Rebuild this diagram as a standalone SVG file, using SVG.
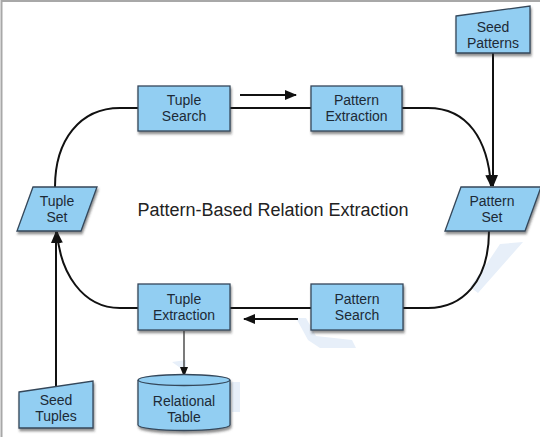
<svg xmlns="http://www.w3.org/2000/svg" width="540" height="437" viewBox="0 0 540 437">
  <defs>
    <style>
      .node { fill: #92cef2; stroke: #34475a; stroke-width: 1.3; filter: url(#sh); }
      .lbl { font-family: "Liberation Sans", Arial, sans-serif; font-size: 14px; fill: #1d2a36; text-anchor: middle; }
      .title { font-family: "Liberation Sans", Arial, sans-serif; font-size: 18px; fill: #222; text-anchor: middle; }
      .conn { fill: none; stroke: #111; stroke-width: 2; }
      .thin { fill: none; stroke: #222; stroke-width: 1.2; }
      .wm { fill: #e7eff9; }
    </style>
    <filter id="sh" x="-20%" y="-20%" width="150%" height="160%">
      <feDropShadow dx="1" dy="2.5" stdDeviation="1.2" flood-color="#333" flood-opacity="0.55"/>
    </filter>
    <marker id="ah" markerUnits="userSpaceOnUse" markerWidth="12" markerHeight="10" refX="11" refY="5" orient="auto">
      <path d="M0,0 L12,5 L0,10 Z" fill="#111"/>
    </marker>
    <marker id="ahs" markerUnits="userSpaceOnUse" markerWidth="10" markerHeight="8" refX="9" refY="4" orient="auto">
      <path d="M0,0 L10,4 L0,8 Z" fill="#111"/>
    </marker>
  </defs>

  <rect x="0" y="0" width="540" height="437" fill="#ffffff"/>
  <path d="M1.5,437 V1 H540" fill="none" stroke="#a8a8a8" stroke-width="2"/>

  <!-- faint watermark -->
  <g id="watermark">
    <polygon class="wm" points="500,244 523,242 478,293 470,287 488,262"/>
    <polygon class="wm" points="296,318 306,318 316,336 352,340 356,348 320,348 308,340"/>
    <polygon class="wm" points="172,362 186,360 186,372"/>
    <polygon class="wm" points="232,382 240,382 240,412 232,412"/>
  </g>

  <g id="connectors">
    <path class="conn" d="M138,108 H120 C80,108 55,140 55,187"/>
    <path class="conn" d="M230,108 H311"/>
    <path class="conn" d="M402,108 H428 C468,108 488,140 491,186" marker-end="url(#ah)"/>
    <path class="conn" d="M493,53 V186" marker-end="url(#ah)"/>
    <path class="conn" d="M489,231 C489,282 462,308 428,308 H403"/>
    <path class="conn" d="M311,308 H230"/>
    <path class="conn" d="M138,308 H120 C82,308 60,272 57,232" marker-end="url(#ah)"/>
    <path class="conn" d="M56,393 V232" marker-end="url(#ah)"/>
    <path class="conn" d="M240,95 H296" marker-end="url(#ah)"/>
    <path class="conn" d="M298,319 H244" marker-end="url(#ah)"/>
    <path class="thin" d="M184,331 V376" marker-end="url(#ahs)"/>
  </g>

  <g id="seed-patterns">
    <polygon class="node" points="456,16 530,6 530,53 456,53"/>
    <text class="lbl" x="493" y="32">Seed</text>
    <text class="lbl" x="493" y="48">Patterns</text>
  </g>

  <g id="tuple-search">
    <rect class="node" x="138" y="86" width="92" height="45"/>
    <text class="lbl" x="184" y="105">Tuple</text>
    <text class="lbl" x="184" y="121">Search</text>
  </g>

  <g id="pattern-extraction">
    <rect class="node" x="311" y="86" width="91" height="45"/>
    <text class="lbl" x="356.5" y="105">Pattern</text>
    <text class="lbl" x="356.5" y="121">Extraction</text>
  </g>

  <g id="tuple-set">
    <polygon class="node" points="33,187 97,187 81,231 17,231"/>
    <text class="lbl" x="57" y="206">Tuple</text>
    <text class="lbl" x="57" y="222">Set</text>
  </g>

  <g id="pattern-set">
    <polygon class="node" points="461,187 541,187 525,231 445,231"/>
    <text class="lbl" x="492" y="206">Pattern</text>
    <text class="lbl" x="492" y="222">Set</text>
  </g>

  <g id="title">
    <text class="title" x="273" y="216">Pattern-Based Relation Extraction</text>
  </g>

  <g id="tuple-extraction">
    <rect class="node" x="138" y="284" width="92" height="46"/>
    <text class="lbl" x="184" y="304">Tuple</text>
    <text class="lbl" x="184" y="320">Extraction</text>
  </g>

  <g id="pattern-search">
    <rect class="node" x="311" y="284" width="92" height="46"/>
    <text class="lbl" x="357" y="304">Pattern</text>
    <text class="lbl" x="357" y="320">Search</text>
  </g>

  <g id="seed-tuples">
    <polygon class="node" points="19,392 93,381 93,428 19,428"/>
    <text class="lbl" x="56" y="405">Seed</text>
    <text class="lbl" x="56" y="421">Tuples</text>
  </g>

  <g id="relational-table">
    <path class="node" d="M138,380 A46,5.5 0 0 1 230,380 V425 A46,5.5 0 0 1 138,425 Z"/>
    <path d="M138,380 A46,5.5 0 0 0 230,380" fill="none" stroke="#34475a" stroke-width="1.3"/>
    <text class="lbl" x="184" y="406">Relational</text>
    <text class="lbl" x="184" y="422">Table</text>
  </g>
</svg>
